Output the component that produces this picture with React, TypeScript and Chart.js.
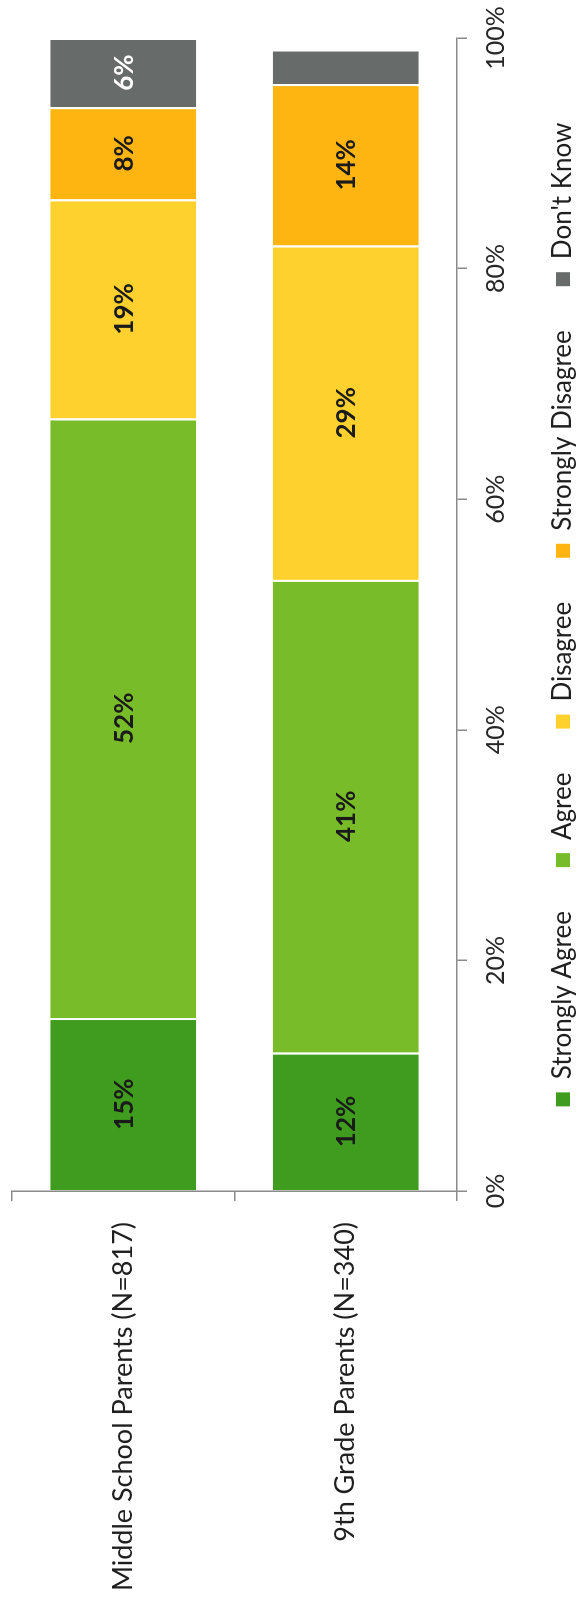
import React, { useEffect, useRef } from 'react';
import { Chart, registerables } from 'chart.js';

Chart.register(...registerables);

// ---- data ----
const categories = ['Middle School Parents (N=817)', '9th Grade Parents (N=340)'];
const seriesNames = ['Strongly Agree', 'Agree', 'Disagree', 'Strongly Disagree', "Don't Know"];
const stronglyAgree = [15, 12];
const agree = [52, 41];
const disagree = [19, 29];
const stronglyDisagree = [8, 14];
const dontKnow = [6, 3];
const seriesColors = ['#3f9c1e', '#79bc2a', '#ffd12f', '#feb511', '#676b69'];
const labelColors = ['#1a1a1a', '#1a1a1a', '#1a1a1a', '#1a1a1a', '#ffffff'];
const tickMin = 0;
const tickMax = 100;
const tickStep = 20;

// canvas is drawn unrotated, then turned -90deg with CSS
const CW = 1602;
const CH = 600;
const FONT = 'Lato, "Open Sans", sans-serif';
const AXIS_COLOR = '#8a8a8a';
const LEGEND_PAD = 44;

const segmentLabels = {
  id: 'segmentLabels',
  afterDatasetsDraw(chart: any) {
    const ctx = chart.ctx;
    ctx.save();
    ctx.font = `bold 26px ${FONT}`;
    ctx.textAlign = 'center';
    ctx.textBaseline = 'middle';
    chart.data.datasets.forEach((ds: any, di: number) => {
      const meta = chart.getDatasetMeta(di);
      meta.data.forEach((el: any, i: number) => {
        const v = ds.data[i];
        if (v < 5) return;
        const p = el.getCenterPoint();
        ctx.fillStyle = labelColors[di];
        ctx.fillText(v + '%', p.x, p.y + 1);
      });
    });
    ctx.restore();
  },
};

export default function App() {
  const ref = useRef<HTMLCanvasElement | null>(null);

  useEffect(() => {
    if (!ref.current) return;
    Chart.defaults.font.family = FONT;
    const series = [stronglyAgree, agree, disagree, stronglyDisagree, dontKnow];
    const chart = new Chart(ref.current, {
      type: 'bar',
      data: {
        labels: categories,
        datasets: series.map((d, i) => ({
          label: seriesNames[i],
          data: d,
          backgroundColor: seriesColors[i],
          borderColor: '#ffffff',
          borderWidth: { top: 0, bottom: 0, left: 0, right: 2 },
          categoryPercentage: 1,
          barPercentage: 0.656,
        })),
      },
      options: {
        indexAxis: 'y',
        responsive: false,
        animation: false,
        devicePixelRatio: 1,
        layout: { padding: { left: 0, right: 38, top: 12, bottom: 14 } },
        plugins: {
          tooltip: { enabled: false },
          legend: {
            position: 'bottom',
            fullSize: false,
            align: 'center',
            labels: {
              boxWidth: 14,
              boxHeight: 14,
              padding: LEGEND_PAD,
              color: '#1f1f1f',
              font: { size: 26, family: FONT },
              generateLabels: (c: any) =>
                Chart.defaults.plugins.legend.labels
                  .generateLabels(c)
                  .map((l: any) => ({ ...l, lineWidth: 0, strokeStyle: 'rgba(0,0,0,0)' })),
            },
          },
        },
        scales: {
          x: {
            stacked: true,
            min: tickMin,
            max: tickMax,
            position: 'bottom',
            ticks: {
              stepSize: tickStep,
              callback: (v: any) => v + '%',
              font: { size: 25, family: FONT },
              color: '#262626',
              padding: 14,
              maxRotation: 0,
              autoSkip: false,
            },
            grid: {
              drawOnChartArea: false,
              drawTicks: true,
              tickLength: 10,
              color: AXIS_COLOR,
              lineWidth: 1.5,
            },
            border: { display: true, color: AXIS_COLOR, width: 1.5 },
            afterFit: (s: any) => {
              s.height = 93 - LEGEND_PAD;
              s.paddingLeft = 0;
              s.paddingRight = 0;
            },
          },
          y: {
            stacked: true,
            position: 'left',
            ticks: {
              font: { size: 27, family: FONT },
              color: '#1f1f1f',
              padding: 21,
            },
            grid: {
              drawOnChartArea: false,
              drawTicks: true,
              tickLength: 10,
              offset: true,
              color: AXIS_COLOR,
              lineWidth: 1.5,
            },
            border: { display: true, color: AXIS_COLOR, width: 1.5 },
            afterFit: (s: any) => {
              s.width = 411;
              s.paddingTop = 0;
              s.paddingBottom = 0;
            },
          },
        },
      },
      plugins: [segmentLabels],
    } as any);
    return () => chart.destroy();
  }, []);

  return (
    <div
      style={{
        position: 'absolute',
        left: 0,
        top: 0,
        width: 577,
        height: 1602,
        overflow: 'hidden',
        background: '#ffffff',
      }}
    >
      <canvas
        ref={ref}
        width={CW}
        height={CH}
        style={{
          position: 'absolute',
          left: 0,
          top: 0,
          width: CW,
          height: CH,
          transformOrigin: '0 0',
          transform: `translate(0px, ${CW}px) rotate(-90deg)`,
        }}
      />
    </div>
  );
}
